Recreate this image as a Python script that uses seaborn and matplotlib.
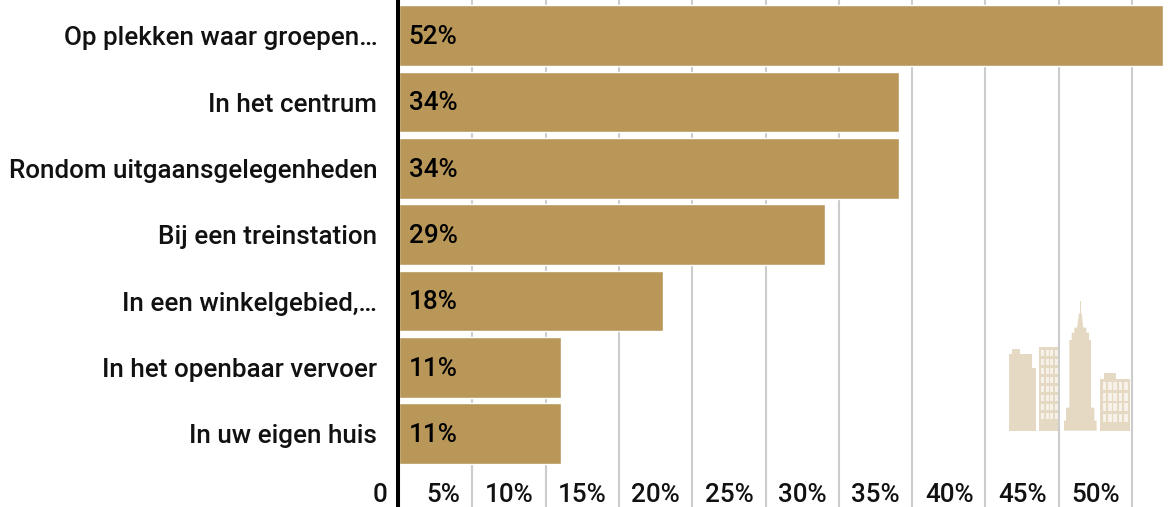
import matplotlib
matplotlib.use("Agg")
import matplotlib.pyplot as plt
from matplotlib.patches import Polygon, Rectangle
from matplotlib.transforms import ScaledTranslation
import pandas as pd
import seaborn as sns

categories = ["Op plekken waar groepen…", "In het centrum", "Rondom uitgaansgelegenheden",
              "Bij een treinstation", "In een winkelgebied,…", "In het openbaar vervoer", "In uw eigen huis"]
values = [52.1, 34.1, 34.1, 29.05, 18.0, 11.05, 11.05]
x_ticks = [0, 5, 10, 15, 20, 25, 30, 35, 40, 45, 50]
x_labels = ["0", "5%", "10%", "15%", "20%", "25%", "30%", "35%", "40%", "45%", "50%"]

BAR = "#b89759"
WATERMARK = "#e5d9c3"
W, H = 1170, 507
DPI = 100
FS = 18.7

sns.set_style("white")
plt.rcParams["font.family"] = ["Roboto", "DejaVu Sans"]

fig = plt.figure(figsize=(W / DPI, H / DPI), dpi=DPI)
left = 399
ax = fig.add_axes([left / W, 0, (W - left) / W, 1])

df = pd.DataFrame({"plek": categories, "pct": values})
sns.barplot(data=df, x="pct", y="plek", color=BAR, saturation=1, width=0.915, ax=ax, zorder=3)

ax.set_xlim(0, (W - left) / 14.66)
ax.set_ylim((H - 35.7) / 66.35, -35.7 / 66.35)
ax.set_xlabel("")
ax.set_ylabel("")

ax.grid(axis="x", color="#cccccc", linewidth=1.5, zorder=1)
ax.grid(axis="y", visible=False)
ax.set_axisbelow(True)
for side in ["top", "right", "bottom"]:
    ax.spines[side].set_visible(False)
ax.spines["left"].set_color("black")
ax.spines["left"].set_linewidth(2.9)
ax.spines["left"].set_position(("outward", 1.0))
ax.spines["left"].set_zorder(5)

ax.set_xticks(x_ticks)
ax.set_xticklabels(x_labels)
ax.tick_params(axis="y", length=0, pad=14.6, labelsize=FS, labelcolor="#111111")
ax.tick_params(axis="x", length=0, pad=-17, labelsize=FS, labelcolor="#111111")
for lab in ax.get_yticklabels():
    lab.set_fontweight("medium")

# x labels sit left of their gridline, right aligned
shift = ScaledTranslation(-12 / DPI, 0, fig.dpi_scale_trans)
for lab in ax.get_xticklabels():
    lab.set_ha("right")
    lab.set_fontweight("medium")
    lab.set_transform(lab.get_transform() + shift)

for i, v in enumerate(values):
    ax.annotate(f"{v:.0f}%", xy=(0, i), xytext=(7, -1), textcoords="offset points",
                va="center", ha="left", fontsize=FS, fontweight="medium", color="black", zorder=6)

# skyline watermark, decoration only, in pixel coordinates
deco = fig.add_axes([0, 0, 1, 1], zorder=-1)
deco.set_xlim(0, W)
deco.set_ylim(H, 0)
deco.axis("off")
ax.patch.set_alpha(0)
ax.set_zorder(1)


def zx(x):
    return 980 + x / 3


def zy(y):
    return 290 + y / 3


def outline(points):
    deco.add_patch(Polygon([(zx(x), zy(y)) for x, y in points], closed=True, fc=WATERMARK, ec="none"))


def windows(xs, ys, w, h):
    for x in xs:
        for y in ys:
            deco.add_patch(Rectangle((zx(x), zy(y)), w / 3, h / 3, fc="#f6f1e9", ec="none"))


outline([(87, 422), (87, 192), (97, 192), (97, 178), (120, 178), (120, 192), (155, 192),
         (155, 234), (167, 234), (167, 422)])
outline([(177, 422), (177, 172), (240, 172), (240, 422)])
windows([184, 198, 211, 224], [179, 206, 233, 260, 288, 315, 342, 369], 9, 19)
outline([(252, 422), (252, 392), (258, 392), (258, 353), (268, 353), (268, 150), (275, 150),
         (275, 128), (283, 128), (283, 113), (291, 113), (297, 70), (300, 70), (300, 33),
         (303, 33), (303, 70), (305, 70), (310, 113), (319, 113), (319, 128), (327, 128),
         (327, 150), (333, 150), (333, 353), (343, 353), (343, 392), (350, 392), (350, 422)])
outline([(361, 422), (361, 268), (372, 268), (372, 249), (409, 249), (409, 268), (450, 268), (450, 422)])
windows([368, 384, 400, 416, 432], [276, 308, 340, 372], 11, 24)

fig.savefig("out.png", dpi=DPI, facecolor="white")
